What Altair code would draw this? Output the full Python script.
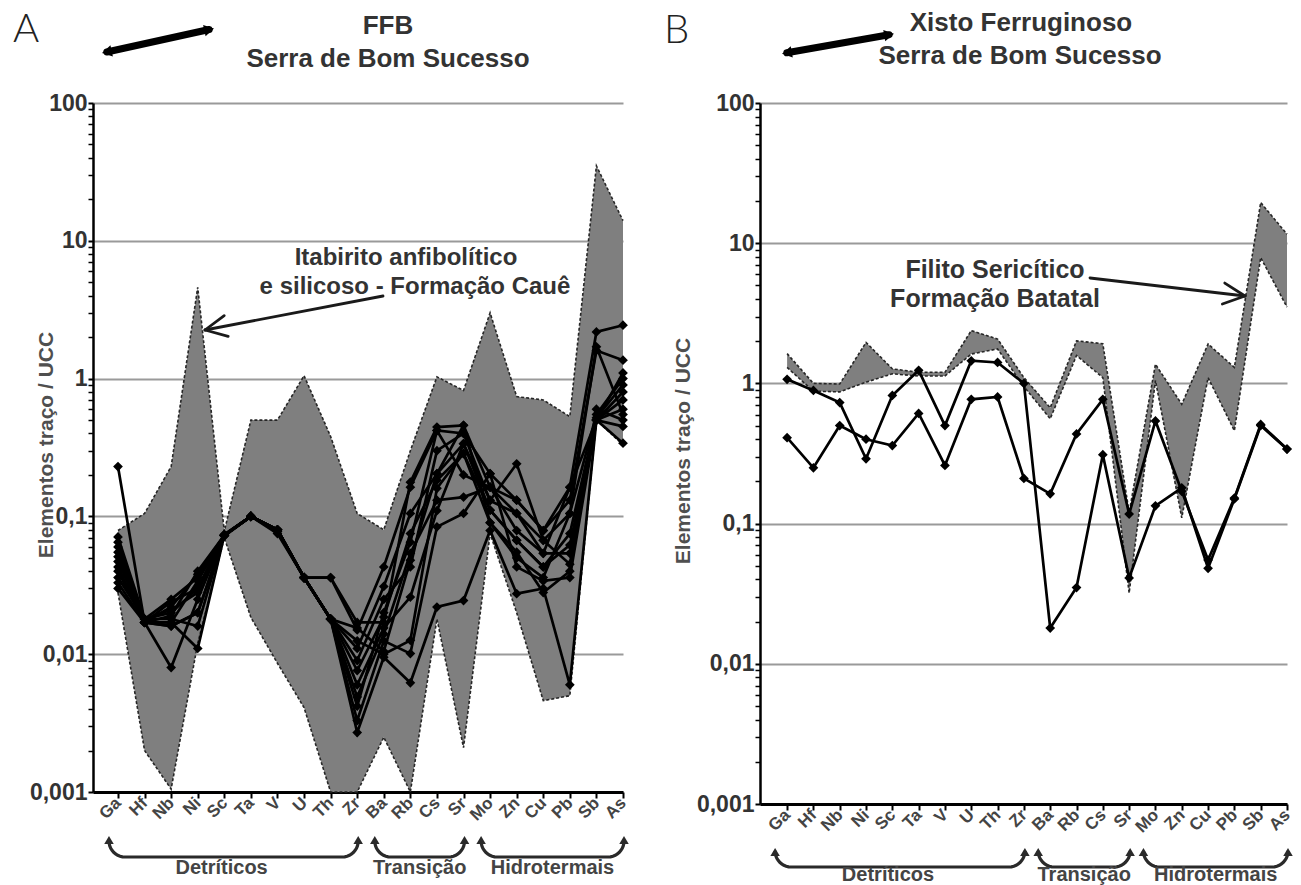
import math
import pandas as pd
import altair as alt

FONT = "Liberation Sans"

ELEMENTS = ["Ga", "Hf", "Nb", "Ni", "Sc", "Ta", "V", "U", "Th", "Zr",
            "Ba", "Rb", "Cs", "Sr", "Mo", "Zn", "Cu", "Pb", "Sb", "As"]

# --- Panel A: FFB, Serra de Bom Sucesso -------------------------------------
# Envelope: itabirito anfibolítico e silicoso (Formação Cauê)
CAUE_UPPER = [0.079, 0.105, 0.23, 4.6, 0.078, 0.5, 0.5, 1.05, 0.38, 0.105,
              0.08, 0.3, 1.03, 0.82, 3.0, 0.74, 0.7, 0.53, 35.0, 14.0]
CAUE_LOWER = [0.028, 0.002, 0.00105, 0.012, 0.07, 0.0185, 0.0086, 0.0041, 0.001, 0.001,
              0.0025, 0.001, 0.018, 0.0021, 0.075, 0.02, 0.0046, 0.005, 0.5, 0.33]

# FFB samples
FFB_01 = [0.23, 0.017, 0.017, 0.011, 0.073, 0.1, 0.08, 0.036, 0.036, 0.017,
          0.017, 0.177, 0.445, 0.458, 0.163, 0.105, 0.054, 0.163, 2.18, 2.44]
FFB_02 = [0.071, 0.018, 0.025, 0.036, 0.073, 0.1, 0.078, 0.036, 0.036, 0.015,
          0.043, 0.163, 0.42, 0.40, 0.204, 0.131, 0.079, 0.131, 1.6, 1.36]
FFB_03 = [0.065, 0.017, 0.008, 0.025, 0.073, 0.1, 0.08, 0.036, 0.018, 0.0027,
          0.0095, 0.0062, 0.022, 0.0245, 0.079, 0.0275, 0.03, 0.006, 0.5, 0.34]
FFB_04 = [0.06, 0.018, 0.02, 0.03, 0.072, 0.1, 0.075, 0.036, 0.018, 0.011,
          0.031, 0.105, 0.204, 0.337, 0.131, 0.241, 0.067, 0.105, 0.55, 1.0]
FFB_05 = [0.055, 0.017, 0.016, 0.02, 0.073, 0.1, 0.08, 0.036, 0.018, 0.0076,
          0.0186, 0.075, 0.183, 0.286, 0.111, 0.067, 0.043, 0.075, 0.52, 0.9]
FFB_06 = [0.051, 0.017, 0.022, 0.038, 0.073, 0.1, 0.08, 0.036, 0.018, 0.0049,
          0.014, 0.054, 0.131, 0.138, 0.163, 0.079, 0.054, 0.054, 0.5, 0.8]
FFB_07 = [0.047, 0.018, 0.018, 0.016, 0.074, 0.1, 0.078, 0.036, 0.018, 0.0033,
          0.0125, 0.0101, 0.084, 0.105, 0.204, 0.043, 0.034, 0.036, 0.5, 0.7]
FFB_08 = [0.043, 0.017, 0.024, 0.03, 0.073, 0.1, 0.08, 0.036, 0.018, 0.009,
          0.025, 0.043, 0.3, 0.4, 0.13, 0.105, 0.067, 0.045, 0.5, 0.6]
FFB_09 = [0.04, 0.017, 0.017, 0.034, 0.073, 0.1, 0.08, 0.036, 0.018, 0.0125,
          0.01, 0.0126, 0.16, 0.286, 0.09, 0.055, 0.028, 0.04, 0.6, 0.5]
FFB_10 = [0.036, 0.018, 0.021, 0.028, 0.073, 0.1, 0.079, 0.036, 0.018, 0.006,
          0.0155, 0.026, 0.11, 0.337, 0.111, 0.067, 0.043, 0.062, 0.5, 0.45]
FFB_11 = [0.033, 0.017, 0.016, 0.02, 0.073, 0.1, 0.08, 0.036, 0.018, 0.0042,
          0.02, 0.065, 0.42, 0.2, 0.163, 0.131, 0.079, 0.163, 0.5, 1.1]
FFB_12 = [0.03, 0.017, 0.019, 0.04, 0.073, 0.1, 0.08, 0.036, 0.018, 0.0155,
          0.0105, 0.048, 0.204, 0.458, 0.09, 0.05, 0.036, 0.105, 1.7, 0.55]

# --- Panel B: Xisto Ferruginoso, Serra de Bom Sucesso ------------------------
# Envelope: filito sericítico (Formação Batatal)
BATATAL_UPPER = [1.63, 1.0, 0.99, 1.96, 1.27, 1.2, 1.2, 2.38, 2.07, 1.1,
                 0.67, 2.01, 1.92, 0.12, 1.37, 0.71, 1.91, 1.3, 19.5, 11.6]
BATATAL_LOWER = [1.3, 0.88, 0.87, 1.02, 1.17, 1.13, 1.13, 1.62, 1.76, 0.95,
                 0.56, 1.58, 1.1, 0.032, 1.05, 0.11, 1.1, 0.46, 7.9, 3.5]

# Xisto ferruginoso samples
XF_01 = [1.07, 0.89, 0.73, 0.29, 0.82, 1.24, 0.50, 1.45, 1.41, 1.0,
         0.018, 0.035, 0.31, 0.041, 0.134, 0.18, 0.048, 0.15, 0.5, 0.34]
XF_02 = [0.41, 0.25, 0.50, 0.40, 0.36, 0.61, 0.26, 0.77, 0.80, 0.21,
         0.163, 0.436, 0.77, 0.117, 0.54, 0.17, 0.055, 0.152, 0.51, 0.34]

YTICKS = [round(m * 10 ** k, 6) for k in range(-3, 2) for m in range(1, 10)] + [100]
MAJOR = "abs(log(datum.value)/LN10 - round(log(datum.value)/LN10)) < 0.001"
XLABELS = "[" + ",".join("'%s'" % e for e in ELEMENTS) + "][datum.value]"

ONE = pd.DataFrame({"k": [0]})


def label(text, x, y, size, weight="bold", align="center", color="#333333", font=FONT):
    return alt.Chart(pd.DataFrame({"t": [text]})).mark_text(
        align=align, baseline="alphabetic", font=font, fontSize=size,
        fontWeight=weight, color=color
    ).encode(x=alt.value(x), y=alt.value(y), text="t:N")


def segment(x1, y1, x2, y2, width, color="black", opacity=1):
    return alt.Chart(ONE).mark_rule(
        color=color, strokeWidth=width, strokeCap="round", opacity=opacity
    ).encode(x=alt.value(x1), y=alt.value(y1), x2=alt.value(x2), y2=alt.value(y2))


def head(x, y, shape, angle, size, color="black"):
    return alt.Chart(ONE).mark_point(
        shape=shape, angle=angle % 360, filled=True, size=size, color=color,
        opacity=1, strokeWidth=0
    ).encode(x=alt.value(x), y=alt.value(y))


def double_arrow(x1, y1, x2, y2):
    dx, dy = x2 - x1, y2 - y1
    n = math.hypot(dx, dy)
    ux, uy = dx / n, dy / n
    ang = math.degrees(math.atan2(dy, dx))
    a = (x1 + 7 * ux, y1 + 7 * uy)
    b = (x2 - 7 * ux, y2 - 7 * uy)
    return [segment(a[0], a[1], b[0], b[1], 7),
            head(a[0], a[1], "triangle-left", ang, 130),
            head(b[0], b[1], "triangle-right", ang, 130)]


def pointer(x1, y1, tipx, tipy, length=24, spread=26):
    ux, uy = x1 - tipx, y1 - tipy
    n = math.hypot(ux, uy)
    ux, uy = ux / n, uy / n
    out = [segment(x1, y1, tipx, tipy, 2.8, "#1a1a1a")]
    for s in (spread, -spread):
        r = math.radians(s)
        hx = ux * math.cos(r) - uy * math.sin(r)
        hy = ux * math.sin(r) + uy * math.cos(r)
        out.append(segment(tipx, tipy, tipx + length * hx, tipy + length * hy, 2.8, "#1a1a1a"))
    return out


def bracket_rows(gid, xl, xr, ytip, ybot, r=16, n=10):
    pts = [(xl, ytip + 6)]
    cx, cy = xl + r, ybot - r
    for j in range(n + 1):
        a = math.pi - (math.pi / 2) * j / n
        pts.append((cx + r * math.cos(a), cy + r * math.sin(a)))
    cx = xr - r
    for j in range(n + 1):
        a = (math.pi / 2) - (math.pi / 2) * j / n
        pts.append((cx + r * math.cos(a), cy + r * math.sin(a)))
    pts.append((xr, ytip + 6))
    return [{"g": gid, "k": i, "px": p[0], "py": p[1]} for i, p in enumerate(pts)]


def panel(upper, lower, samples, W, H, xmin, ytitle_x, groups_left_shift,
          tip_off, bot_off, txt_off, extras):
    step = W / (19 - xmin)

    def px(i):
        return (i - xmin) * step

    env = pd.DataFrame({"idx": range(20), "upper": upper, "lower": lower})
    env_long = pd.concat([
        pd.DataFrame({"idx": range(20), "val": upper, "bound": "upper"}),
        pd.DataFrame({"idx": range(20), "val": lower, "bound": "lower"}),
    ])
    rows = []
    for name, vals in samples.items():
        for i, v in enumerate(vals):
            rows.append({"idx": i, "val": v, "sample": name})
    sdf = pd.DataFrame(rows)

    xaxis = alt.Axis(values=list(range(20)), labelExpr=XLABELS, labelAngle=315,
                     labelAlign="right", labelBaseline="middle", labelFont=FONT,
                     labelFontSize=17, labelFontWeight="bold", labelColor="#444444",
                     labelPadding=2, labelOverlap=False, labelFlush=False,
                     tickColor="black", tickSize=6, tickWidth=2,
                     domainColor="black", domainWidth=3, grid=False, title=None)
    yaxis = alt.Axis(values=YTICKS,
                     labelExpr="(" + MAJOR + ") ? replace(toString(datum.value), '.', ',') : ''",
                     grid=True, gridColor="#9a9a9a", gridWidth=2,
                     gridOpacity={"condition": {"test": MAJOR, "value": 1}, "value": 0},
                     tickColor="black", tickSize=5,
                     tickWidth={"condition": {"test": MAJOR, "value": 2}, "value": 1.5},
                     domainColor="black", domainWidth=2.5,
                     labelFont=FONT, labelFontSize=23, labelFontWeight="bold",
                     labelColor="#333333", labelPadding=1, labelOverlap=False,
                     title="Elementos traço / UCC", titleFont=FONT, titleFontSize=21,
                     titleFontWeight="bold", titleColor="#4f4f4f", titleAngle=270,
                     titleX=ytitle_x, titleY=H / 2 - 3, titleAlign="center",
                     titleBaseline="middle")
    xs = alt.Scale(domain=[xmin, 19], nice=False, zero=False)
    ys = alt.Scale(type="log", domain=[0.001, 100], nice=False)
    X = alt.X("idx:Q", scale=xs, axis=xaxis)

    area = alt.Chart(env).mark_area(color="#7f7f7f", opacity=1).encode(
        x=X, y=alt.Y("upper:Q", scale=ys, axis=yaxis), y2="lower:Q")
    outline = alt.Chart(env_long).mark_line(
        color="#262626", strokeWidth=1.6, strokeDash=[3, 2]).encode(
        x=X, y=alt.Y("val:Q", scale=ys, axis=yaxis), detail="bound:N")
    lines = alt.Chart(sdf).mark_line(color="black", strokeWidth=2.7).encode(
        x=X, y=alt.Y("val:Q", scale=ys, axis=yaxis), detail="sample:N")
    pts = alt.Chart(sdf).mark_point(
        shape="diamond", filled=True, size=95, color="black", opacity=1).encode(
        x=X, y=alt.Y("val:Q", scale=ys, axis=yaxis))
    core = alt.layer(area, outline, lines, pts).properties(width=W, height=H)

    # group brackets under the element labels
    groups = [(0, 9, "Detríticos", -12), (10, 13, "Transição", 0), (14, 19, "Hidrotermais", 0)]
    brows = []
    heads = []
    glabels = []
    for gi, (a, b, name, dx) in enumerate(groups):
        xl, xr = px(a) - groups_left_shift, px(b) + 1
        brows += bracket_rows(gi, xl, xr, H + tip_off, H + bot_off)
        heads += [head(xl, H + tip_off + 4, "triangle-up", 0, 90, "#2a2a2a"),
                  head(xr, H + tip_off + 4, "triangle-up", 0, 90, "#2a2a2a")]
        glabels.append(label(name, (xl + xr) / 2 + dx, H + txt_off, 20, color="#444444"))
    brackets = alt.Chart(pd.DataFrame(brows)).mark_line(
        color="#2a2a2a", strokeWidth=3.2).encode(
        x=alt.X("px:Q", scale=None, axis=None),
        y=alt.Y("py:Q", scale=None, axis=None),
        order="k:Q", detail="g:N")

    return alt.layer(core, brackets, *heads, *glabels, *extras).resolve_scale(
        x="independent", y="independent")


# Panel A annotations (pixel offsets from the plot origin)
extras_a = [
    segment(-93, -102.5, -92, -102.5, 1, "white", 0),
    label("A", -80, -61, 40, weight=300, align="left", color="#222222", font="Lato"),
    label("FFB", 295, -69, 26),
    label("Serra de Bom Sucesso", 295, -36, 26),
    label("Itabirito anfibolítico", 313, 162, 24),
    label("e silicoso - Formação Cauê", 322, 191, 24),
] + double_arrow(7, -49.5, 123, -75) + pointer(290, 193, 112, 227)

extras_b = [
    label("B", -96, -60, 40, weight=300, align="left", color="#222222", font="Lato"),
    label("Xisto Ferruginoso", 261, -72, 26),
    label("Serra de Bom Sucesso", 260, -39, 26),
    label("Filito Sericítico", 235, 175, 25),
    label("Formação Batatal", 235, 204, 25),
] + double_arrow(20, -49, 136, -69.5) + pointer(330, 175, 485, 193)

panel_a = panel(CAUE_UPPER, CAUE_LOWER,
                {"FFB-01": FFB_01, "FFB-02": FFB_02, "FFB-03": FFB_03, "FFB-04": FFB_04,
                 "FFB-05": FFB_05, "FFB-06": FFB_06, "FFB-07": FFB_07, "FFB-08": FFB_08,
                 "FFB-09": FFB_09, "FFB-10": FFB_10, "FFB-11": FFB_11, "FFB-12": FFB_12},
                W=530, H=689, xmin=-0.94, ytitle_x=-47, groups_left_shift=9,
                tip_off=44, bot_off=65, txt_off=82, extras=extras_a)

panel_b = panel(BATATAL_UPPER, BATATAL_LOWER, {"XF-01": XF_01, "XF-02": XF_02},
                W=527, H=701, xmin=-1.03, ytitle_x=-77, groups_left_shift=12,
                tip_off=44, bot_off=63, txt_off=77, extras=extras_b)

chart = alt.hconcat(panel_a, panel_b, spacing=137, bounds="flush").properties(
    padding=0, background="white"
).configure_view(strokeWidth=0)

chart.save("out.html", embed_options={"renderer": "svg", "actions": False})
